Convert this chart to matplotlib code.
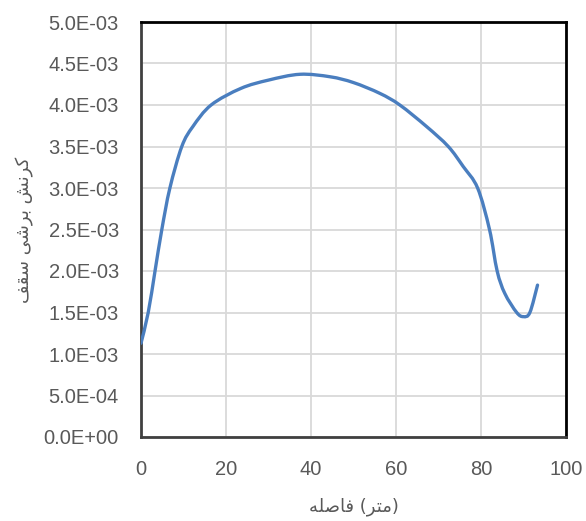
import matplotlib
matplotlib.use("Agg")
import matplotlib.pyplot as plt
from matplotlib.ticker import MultipleLocator, FuncFormatter
from matplotlib.path import Path
from matplotlib.patches import PathPatch

# ---- data ----
distance_m = [0, 1.7, 3.3, 4.9, 6.8, 9.6, 12.2, 16.5, 23.5, 30, 37.4,
              44.5, 50, 56.2, 60.9, 67.2, 72.3, 75.8, 79.2, 82.0, 83.8,
              85.6, 88.4, 90.0, 91.5, 93.3]
strain_e3 = [1.13, 1.5, 2.0, 2.5, 3.0, 3.5, 3.74, 4.0, 4.2, 4.30, 4.37,
             4.34, 4.27, 4.14, 4.0, 3.74, 3.5, 3.26, 3.0, 2.5, 2.0,
             1.73, 1.5, 1.45, 1.5, 1.83]
strain = [v * 1e-3 for v in strain_e3]

x_label_words = ["فاصله", "(متر)"]
y_label_text = "کرنش برشی سقف"

# ---- minimal Arabic-script shaping for display ----
FORMS = {  # iso, fin, ini, med
    "ف": ("\uFED1", "\uFED2", "\uFED3", "\uFED4"),
    "ا": ("\uFE8D", "\uFE8E", None, None),
    "ص": ("\uFEB9", "\uFEBA", "\uFEBB", "\uFEBC"),
    "ل": ("\uFEDD", "\uFEDE", "\uFEDF", "\uFEE0"),
    "ه": ("\uFEE9", "\uFEEA", "\uFEEB", "\uFEEC"),
    "م": ("\uFEE1", "\uFEE2", "\uFEE3", "\uFEE4"),
    "ت": ("\uFE95", "\uFE96", "\uFE97", "\uFE98"),
    "ر": ("\uFEAD", "\uFEAE", None, None),
    "ک": ("\uFB8E", "\uFB8F", "\uFB90", "\uFB91"),
    "ن": ("\uFEE5", "\uFEE6", "\uFEE7", "\uFEE8"),
    "ش": ("\uFEB5", "\uFEB6", "\uFEB7", "\uFEB8"),
    "ب": ("\uFE8F", "\uFE90", "\uFE91", "\uFE92"),
    "ی": ("\uFBFC", "\uFBFD", "\uFBFE", "\uFBFF"),
    "س": ("\uFEB1", "\uFEB2", "\uFEB3", "\uFEB4"),
    "ق": ("\uFED5", "\uFED6", "\uFED7", "\uFED8"),
}
MIRROR = {"(": ")", ")": "("}


def joins_forward(ch):
    f = FORMS.get(ch)
    return f is not None and f[2] is not None


def shape_word(word):
    out = []
    n = len(word)
    for i, ch in enumerate(word):
        f = FORMS.get(ch)
        if f is None:
            out.append(MIRROR.get(ch, ch))
            continue
        prev_j = i > 0 and joins_forward(word[i - 1])
        next_j = i < n - 1 and word[i + 1] in FORMS and joins_forward(ch)
        if prev_j and next_j:
            g = f[3]
        elif prev_j:
            g = f[1]
        elif next_j:
            g = f[2]
        else:
            g = f[0]
        out.append(g)
    return "".join(reversed(out))


def visual(text):
    words = text.split(" ")
    return " ".join(shape_word(w) for w in reversed(words))


# displayed left-to-right as in the reference: word on the left, unit on the right
x_label = " ".join(shape_word(w) for w in x_label_words)
y_label = visual(y_label_text)

# ---- figure ----
fig = plt.figure(figsize=(5.86, 5.21), dpi=100)
ax = fig.add_axes([141 / 586, 1 - 437 / 521, 425 / 586, 415 / 521])

# smoothed line through the data points (Catmull-Rom -> cubic Bezier)
pts = list(zip(distance_m, strain))
verts = [pts[0]]
codes = [Path.MOVETO]
n = len(pts)
for i in range(n - 1):
    p0 = pts[i - 1] if i > 0 else pts[i]
    p1 = pts[i]
    p2 = pts[i + 1]
    p3 = pts[i + 2] if i + 2 < n else pts[i + 1]
    c1 = (p1[0] + (p2[0] - p0[0]) / 6, p1[1] + (p2[1] - p0[1]) / 6)
    c2 = (p2[0] - (p3[0] - p1[0]) / 6, p2[1] - (p3[1] - p1[1]) / 6)
    verts += [c1, c2, p2]
    codes += [Path.CURVE4] * 3
ax.add_patch(PathPatch(Path(verts, codes), fill=False, edgecolor="#4A7EBF",
                       lw=2.4, capstyle="round", joinstyle="round", zorder=3))

ax.set_xlim(0, 100)
ax.set_ylim(0, 5e-3)
ax.xaxis.set_major_locator(MultipleLocator(20))
ax.yaxis.set_major_locator(MultipleLocator(5e-4))


def sci(v, pos):
    if abs(v) < 1e-12:
        return "0.0E+00"
    return f"{v:.1E}"


ax.yaxis.set_major_formatter(FuncFormatter(sci))
ax.grid(True, color="#D9D9D9", lw=1.3)
ax.set_axisbelow(True)
ax.tick_params(length=0, labelsize=14.5, colors="#595959")
ax.tick_params(axis="y", pad=16)
ax.tick_params(axis="x", pad=16.5)
for lab in ax.get_xticklabels() + ax.get_yticklabels():
    lab.set_fontfamily("Liberation Sans")

for side in ["top", "right"]:
    ax.spines[side].set_color("black")
    ax.spines[side].set_linewidth(2.0)
for side in ["left", "bottom"]:
    ax.spines[side].set_color("#404040")
    ax.spines[side].set_linewidth(2.0)

ax.set_xlabel(x_label, family=["DejaVu Sans"], fontsize=13, color="#595959",
              labelpad=13)
ax.set_ylabel(y_label, family=["DejaVu Sans"], fontsize=13, color="#595959",
              labelpad=7)

fig.savefig("out.png", dpi=100, facecolor="white")
